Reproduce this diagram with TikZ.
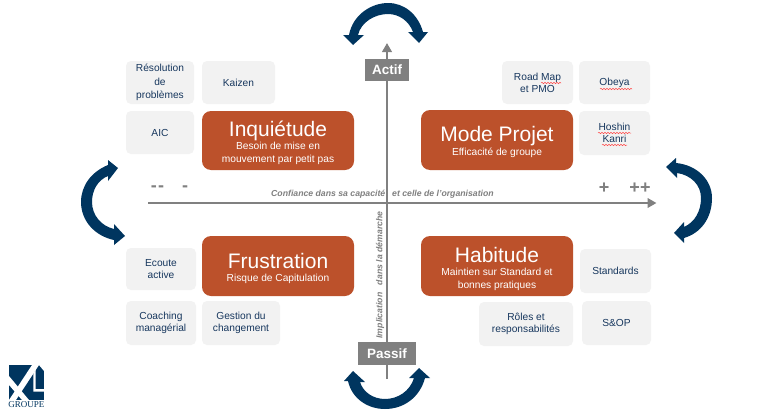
\documentclass[tikz,border=0pt]{standalone}
\usepackage{fontspec}
\setmainfont{Liberation Sans}
\newfontfamily\logofont{Liberation Serif}
\usetikzlibrary{arrows.meta,decorations.pathmorphing}
\definecolor{orangebox}{HTML}{BC512B}
\definecolor{greybox}{HTML}{F2F2F2}
\definecolor{navytext}{HTML}{17375E}
\definecolor{navyarrow}{HTML}{00355F}
\definecolor{axisgrey}{HTML}{808080}
\tikzset{
  x=1pt,y=-1pt,
  tool/.style={fill=greybox,rounded corners=5pt,text=navytext,font=\fontsize{10.2}{11.8}\selectfont,align=center,inner sep=0pt,anchor=center},
  state/.style={fill=orangebox,rounded corners=9pt,text=white,align=center,inner sep=0pt,anchor=center},
  title/.style={text=white,font=\fontsize{21}{24}\selectfont,inner sep=0pt,anchor=center},
  subtitle/.style={text=white,font=\fontsize{10.2}{13}\selectfont,align=center,inner sep=0pt,anchor=center},
  axislabel/.style={fill=axisgrey,text=white,font=\bfseries\fontsize{13.5}{14}\selectfont,inner sep=0pt,anchor=center},
  axisline/.style={draw=axisgrey,line width=2.8pt,-{Triangle[length=9pt,width=9.5pt]}},
  axiscap/.style={text=axisgrey,font=\itshape\bfseries\fontsize{8.7}{10}\selectfont,inner sep=0pt},
  signs/.style={text=axisgrey,font=\bfseries\fontsize{18}{18}\selectfont,inner sep=0pt},
  loopy/.style={fill=navyarrow,draw=none},
  spell/.style={draw=red!70!white,line width=0.5pt,decorate,decoration={snake,amplitude=0.7pt,segment length=3pt}}
}
\newcommand{\gbox}[6]{\node[tool,minimum width=#4 pt-#3 pt,minimum height=#6 pt-#5 pt] (#1) at ({(#3+#4)/2},{(#5+#6)/2}) {#2};}
\newcommand{\obox}[5]{\node[state,minimum width=#3 pt-#2 pt,minimum height=#5 pt-#4 pt] (#1) at ({(#2+#3)/2},{(#4+#5)/2}) {};}
\begin{document}
\begin{tikzpicture}
\useasboundingbox (0,0) rectangle (771,415);
\fill[white] (0,0) rectangle (771,415);

% axes
\coordinate (vtop) at (387,43);
\coordinate (vbot) at (387,379);
\coordinate (hleft) at (148,203);
\coordinate (hright) at (656.5,203);
\draw[axisline] (hleft) -- (hright);
\draw[axisline] (vbot) -- (vtop);
\node[axislabel,minimum width=44pt,minimum height=22pt] (actif) at (387,70) {Actif};
\node[axislabel,minimum width=58pt,minimum height=23pt] (passif) at (387,353.5) {Passif};

\node[axiscap,anchor=east] (conf1) at (385.5,194) {Confiance dans sa capacité};
\node[axiscap,anchor=west] (conf2) at (392,194) {et celle de l’organisation};
\node[axiscap,rotate=90] (impl) at (380,275) {Implication\hspace{5pt} dans la démarche};

\node[signs] (mm) at (157.5,188.5) {-\kern1.5pt-};
\node[signs] (m) at (185,188.5) {-};
\node[signs] (p) at (604,188) {+};
\node[signs] (pp) at (640,188) {++};

% grey boxes
\gbox{res}{Résolution\\[1.5pt]de\\[1.5pt]problèmes}{126}{194}{61}{104}
\gbox{kai}{Kaizen}{202}{275}{61}{104}
\gbox{aic}{AIC}{126}{194}{111}{154}
\gbox{road}{Road Map\\et PMO}{502}{573}{61}{104}
\gbox{obe}{Obeya}{579}{650}{61}{104}
\gbox{hos}{Hoshin\\Kanri}{579}{650}{111}{155}
\gbox{eco}{Ecoute\\active}{126}{196}{248}{290}
\gbox{coa}{Coaching\\managérial}{126}{196}{301}{345}
\gbox{ges}{Gestion du\\changement}{202}{280}{301}{345}
\gbox{sta}{Standards}{580}{651}{249}{293}
\gbox{sop}{S\&OP}{582}{651}{301}{345}
\gbox{rol}{Rôles et\\responsabilités}{479}{573}{302}{346}

% spell marks
\draw[spell] (541,83) -- (561,83);
\draw[spell] (600,89) -- (632,89);
\draw[spell] (598,133) -- (631,133);
\draw[spell] (602,145) -- (627,145);

% orange boxes
\obox{inq}{202}{354}{111}{170}
\node[title] (inqt) at (278,131) {Inquiétude};
\node[subtitle] (inqs) at (278,153.5) {Besoin de mise en\\mouvement par petit pas};
\obox{mod}{421}{573}{110}{170}
\node[title] (modt) at (497,136) {Mode Projet};
\node[subtitle] (mods) at (497,153) {Efficacité de groupe};
\obox{fru}{202}{354}{236}{296}
\node[title] (frut) at (278,261) {Frustration};
\node[subtitle] (frus) at (278,279) {Risque de Capitulation};
\obox{hab}{421}{573}{236}{296}
\node[title] (habt) at (497,255) {Habitude};
\node[subtitle] (habs) at (497,279) {Maintien sur Standard et\\bonnes pratiques};

% circular arrows
\fill[loopy] (349,35) .. controls (353,14) and (372,3) .. (388,3) .. controls (404,3) and (418,14) .. (423,32) -- (428,32) -- (419,43) -- (408,32) -- (413,32) .. controls (409,21) and (399,14) .. (388,14) .. controls (375,14) and (361,22) .. (358,35) -- (364,35) -- (353,45) -- (343,35) -- cycle;
\fill[loopy] (348,381) .. controls (352,399) and (368,409) .. (385,409) .. controls (404,409) and (420,397) .. (425,378) -- (430,378) -- (419,368) -- (409,378) -- (414,378) .. controls (410,391) and (398,399) .. (385,399) .. controls (373,399) and (363,392) .. (360,382) -- (365,382) -- (353,371) -- (344,381) -- cycle;
\fill[loopy] (108,165) .. controls (91,172) and (81,186) .. (81,202) .. controls (81,221) and (95,236) .. (114,240) -- (114,245) -- (125,236) -- (114,224) -- (114,229) .. controls (101,226) and (92,215) .. (92,202) .. controls (92,190) and (98,180) .. (108,176) -- (108,181) -- (118,168) -- (108,160) -- cycle;
\fill[loopy] (676,163) .. controls (697,165) and (712,180) .. (712,198) .. controls (712,218) and (701,233) .. (684,238) -- (684,243) -- (674,233) -- (684,222) -- (684,227) .. controls (695,222) and (701,211) .. (701,198) .. controls (701,185) and (691,175) .. (677,173) -- (677,178) -- (666,167) -- (676,158) -- cycle;

% logo
\fill[navyarrow] (9,365) rectangle (44,400);
\fill[white] (39,365) -- (44,371) -- (44,365) -- cycle;
\fill[white] (32,365) -- (39,365) -- (16,400) -- (9,400) -- cycle;
\fill[white] (9,376) -- (29,400) -- (22,400) -- (9,385) -- cycle;
\fill[white] (33.3,373) -- (35.7,369.5) -- (35.7,389) -- (44,389) -- (44,391.5) -- (33.3,391.5) -- cycle;
\node[text=navyarrow,font=\logofont\fontsize{9}{9}\selectfont,inner sep=0pt] (groupe) at (26.5,404.5) {GROUPE};
\end{tikzpicture}
\end{document}
